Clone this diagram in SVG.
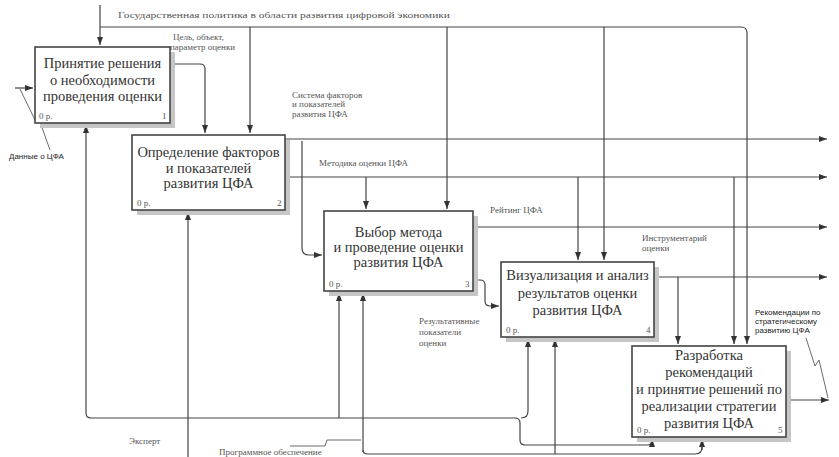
<svg xmlns="http://www.w3.org/2000/svg" width="839" height="457" viewBox="0 0 839 457">
<defs>
<marker id="ah" viewBox="0 0 8 6" refX="8" refY="3" markerWidth="8" markerHeight="6" orient="auto" markerUnits="userSpaceOnUse"><path d="M0,0 L8,3 L0,6 z" fill="#333"/></marker>
</defs>
<style>
.box{fill:#fff;stroke:#444;stroke-width:1.6}
.sh{fill:#c6c6c6}
.t{font-family:'Liberation Serif','Times New Roman','DejaVu Serif',serif;font-size:14.5px;fill:#333;text-anchor:middle}
.n{font-family:'Liberation Serif','Times New Roman','DejaVu Serif',serif;font-size:9px;fill:#555}
.l{font-family:'Liberation Serif','Times New Roman','DejaVu Serif',serif;font-size:9px;fill:#555}
.s{font-family:'Liberation Sans',Arial,sans-serif;font-size:8px;fill:#222}
.c{fill:none;stroke:#444;stroke-width:1.2}
.a{marker-end:url(#ah)}
.q{fill:none;stroke:#444;stroke-width:0.8}
</style>
<rect width="839" height="457" fill="#fff"/>
<g id="connectors">
<path class="c a" d="M100,5 V45"/>
<path class="c" d="M100,27 H741 Q747,27 747,33"/>
<path class="c a" d="M747,33 V344"/>
<path class="c a" d="M250,27 V133"/>
<path class="c a" d="M447,27 V209"/>
<path class="c a" d="M604,27 V260"/>
<path class="c a" d="M170,64 H200 Q205,64 205,69 V133"/>
<path class="c a" d="M15,88 H33"/>
<path class="q" d="M20,89 L35,120 L40,122 L50,150"/>
<path class="c a" d="M285,139 H827"/>
<path class="c a" d="M285,177 H827"/>
<path class="c a" d="M302,141 V248 Q302,255 309,255 H322"/>
<path class="c a" d="M366,177 V209"/>
<path class="c a" d="M578,177 V260"/>
<path class="c a" d="M734,177 V344"/>
<path class="c a" d="M473,227 H827"/>
<path class="c a" d="M473,280 H480 Q485,280 485,285 V301 Q485,306 490,306 H499"/>
<path class="c a" d="M654,277 H827"/>
<path class="c a" d="M678,277 V344"/>
<path class="c a" d="M786,400 H829"/>
<path class="q" d="M806,338 L815,366 L819,360 L828,398"/>
<path class="c a" d="M188,457 V212"/>
<path class="c a" d="M86,413 V125"/>
<path class="c" d="M86,413 Q86,418 91,418 H515 Q520,418 520,423 V440 Q520,445 525,445 H647 Q652,445 652,441"/>
<path class="c a" d="M652,445 V439"/>
<path class="c a" d="M339,418 V293"/>
<path class="c a" d="M521,418 Q528,418 528,411 V339"/>
<path class="c a" d="M363,452 V293"/>
<path class="c" d="M363,450 Q363,454 368,454 H695 Q702,454 702,447"/>
<path class="c a" d="M702,450 V439"/>
<path class="c a" d="M555,454 V339"/>
<path class="q" d="M290,446 H325 L327,440 H361"/>
</g>
<g id="labels">
<text class="l" x="118" y="18" textLength="332" lengthAdjust="spacingAndGlyphs">Государственная политика в области развития цифровой экономики</text>
<text class="l" x="173" y="40">Цель, объект,</text>
<text class="l" x="170" y="50">параметр оценки</text>
<text class="l" x="292" y="98">Система факторов</text>
<text class="l" x="292" y="107">и показателей</text>
<text class="l" x="292" y="117">развития ЦФА</text>
<text class="l" x="319" y="166">Методика оценки ЦФА</text>
<text class="l" x="490" y="213">Рейтинг ЦФА</text>
<text class="l" x="642" y="241">Инструментарий</text>
<text class="l" x="642" y="251">оценки</text>
<text class="l" x="419" y="324">Результативные</text>
<text class="l" x="419" y="335">показатели</text>
<text class="l" x="419" y="346">оценки</text>
<text class="l" x="129" y="444">Эксперт</text>
<text class="l" x="219" y="455">Программное обеспечение</text>
<text class="s" x="9" y="159">Данные о ЦФА</text>
<text class="s" x="755" y="315">Рекомендации по</text>
<text class="s" x="755" y="324">стратегическому</text>
<text class="s" x="755" y="333">развитию ЦФА</text>
</g>
<g id="node1">
<rect class="sh" x="40" y="52" width="135" height="76"/>
<rect class="box" x="35" y="47" width="135" height="76"/>
<text class="t" x="102.5" y="68">Принятие решения</text>
<text class="t" x="102.5" y="85">о необходимости</text>
<text class="t" x="102.5" y="101">проведения оценки</text>
<text class="n" x="39" y="119">0 р.</text>
<text class="n" x="162" y="119">1</text>
</g>
<g id="node2">
<rect class="sh" x="137" y="140" width="153" height="75"/>
<rect class="box" x="132" y="135" width="153" height="75"/>
<text class="t" x="208.5" y="157">Определение факторов</text>
<text class="t" x="208.5" y="173">и показателей</text>
<text class="t" x="208.5" y="188">развития ЦФА</text>
<text class="n" x="137" y="206">0 р.</text>
<text class="n" x="277" y="206">2</text>
</g>
<g id="node3">
<rect class="sh" x="329" y="216" width="149" height="80"/>
<rect class="box" x="324" y="211" width="149" height="80"/>
<text class="t" x="398.5" y="237">Выбор метода</text>
<text class="t" x="398.5" y="252">и проведение оценки</text>
<text class="t" x="398.5" y="267">развития ЦФА</text>
<text class="n" x="329" y="287">0 р.</text>
<text class="n" x="465" y="287">3</text>
</g>
<g id="node4">
<rect class="sh" x="506" y="267" width="153" height="75"/>
<rect class="box" x="501" y="262" width="153" height="75"/>
<text class="t" x="577.5" y="280">Визуализация и анализ</text>
<text class="t" x="577.5" y="298">результатов оценки</text>
<text class="t" x="577.5" y="315">развития ЦФА</text>
<text class="n" x="506" y="333">0 р.</text>
<text class="n" x="646" y="333">4</text>
</g>
<g id="node5">
<rect class="sh" x="637" y="351" width="154" height="91"/>
<rect class="box" x="632" y="346" width="154" height="91"/>
<text class="t" x="709" y="360">Разработка</text>
<text class="t" x="709" y="377">рекомендаций</text>
<text class="t" x="709" y="394">и принятие решений по</text>
<text class="t" x="709" y="411">реализации стратегии</text>
<text class="t" x="709" y="428">развития ЦФА</text>
<text class="n" x="637" y="433">0 р.</text>
<text class="n" x="778" y="433">5</text>
</g>
</svg>
